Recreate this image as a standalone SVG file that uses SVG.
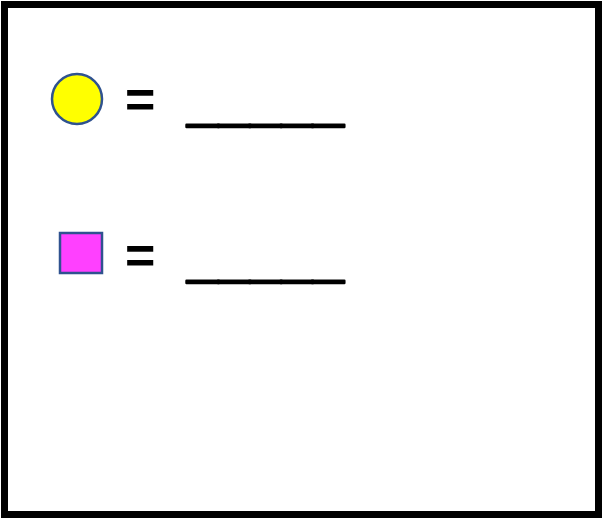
<svg xmlns="http://www.w3.org/2000/svg" width="602" height="518" viewBox="0 0 602 518">
<style>
.t{font-family:"Liberation Sans",Arial,sans-serif;font-weight:bold;fill:#000}
.u{stroke:#000;stroke-width:2.4;stroke-linejoin:round}
.shape{stroke:#2F528F;stroke-width:2.5}
</style>
<rect x="0" y="0" width="602" height="518" fill="#fff"/>
<rect x="4.5" y="4.5" width="594" height="510" fill="#fff" stroke="#000" stroke-width="7"/>
<g id="circle-node">
<circle class="shape" cx="77" cy="99" r="25" fill="#FFFF00"/>
<text class="t" x="125" y="117" font-size="52">=</text>
<text class="t u" x="187" y="120" font-size="57" textLength="157" lengthAdjust="spacingAndGlyphs">_____</text>
</g>
<g id="square-node">
<rect class="shape" x="60" y="233" width="42" height="40" fill="#FF40FF"/>
<text class="t" x="125" y="273" font-size="52">=</text>
<text class="t u" x="187" y="276" font-size="57" textLength="157" lengthAdjust="spacingAndGlyphs">_____</text>
</g>
<g id="connectors"/>
</svg>
